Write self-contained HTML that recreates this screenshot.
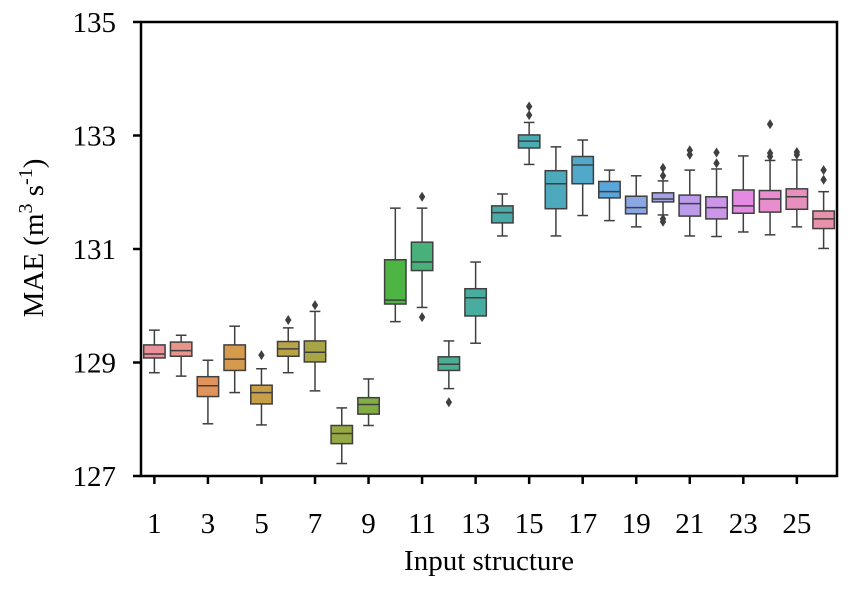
<!DOCTYPE html>
<html><head><meta charset="utf-8"><style>
html,body{margin:0;padding:0;background:#fff;width:854px;height:590px;overflow:hidden}
svg text{font-family:"Liberation Serif",serif;fill:#000}
</style></head><body>
<svg id="chart" width="854" height="590" xmlns="http://www.w3.org/2000/svg">
<g id="boxes"></g>
<g id="axes"></g>
<text x="489" y="570" font-size="29" text-anchor="middle">Input structure</text>
<text transform="translate(43,238) rotate(-90)" font-size="29" text-anchor="middle">MAE (m<tspan font-size="20" dy="-11">3</tspan><tspan dy="11"> s</tspan><tspan font-size="20" dy="-11">-1</tspan><tspan dy="11">)</tspan></text>
</svg>
<script>
const categories=[1,2,3,4,5,6,7,8,9,10,11,12,13,14,15,16,17,18,19,20,21,22,23,24,25,26];
const whiskerLow=[128.82,128.76,127.92,128.47,127.90,128.82,128.50,127.22,127.89,129.72,129.97,128.54,129.34,131.23,132.49,131.23,131.59,131.50,131.39,131.60,131.23,131.22,131.30,131.25,131.39,131.01];
const q1=[129.08,129.11,128.40,128.86,128.27,129.11,129.01,127.57,128.09,130.03,130.62,128.86,129.82,131.46,132.78,131.71,132.15,131.90,131.62,131.83,131.58,131.53,131.63,131.65,131.70,131.36];
const median=[129.15,129.21,128.59,129.06,128.47,129.24,129.18,127.75,128.26,130.10,130.77,128.97,130.14,131.64,132.90,132.15,132.48,132.01,131.73,131.88,131.80,131.73,131.76,131.88,131.92,131.53];
const q3=[129.31,129.36,128.75,129.31,128.60,129.37,129.38,127.89,128.38,130.81,131.12,129.10,130.30,131.76,133.01,132.38,132.63,132.19,131.93,131.99,131.95,131.92,132.04,132.03,132.06,131.67];
const whiskerHigh=[129.57,129.48,129.04,129.64,128.89,129.61,129.90,128.20,128.71,131.72,131.72,129.38,130.77,131.97,133.23,132.80,132.92,132.39,132.29,132.20,132.39,132.41,132.64,132.56,132.57,132.01];
const outliers=[[],[],[],[],[129.13],[129.75],[130.01],[],[],[],[129.80,131.92],[128.30],[],[],[133.36,133.51],[],[],[],[],[132.29,132.43,131.53,131.48],[132.66,132.74],[132.51,132.70],[],[132.63,132.69,133.20],[132.66,132.71],[132.22,132.39]];
const colors=["#e8919b","#e8948a","#e0935a","#d59a4b","#c99e48","#b9a347","#a8a546","#95a944","#82ad45","#4eb444","#48b17a","#49ae93","#48ac9f","#48aba9","#4aabb3","#4daabd","#52a8c9","#5aa5d9","#8aa6e3","#a6a2e8","#bb9bea","#cb96e8","#e38ae3","#e88dce","#e890bd","#e891ab"];
const yTicks=[127,129,131,133,135];
const xTickLabels=[1,3,5,7,9,11,13,15,17,19,21,23,25];

const L=141,R=837,T=22,B=476,yMin=127,yMax=135;
const step=(R-L)/categories.length;
function xs(i){return L+step*(i+0.5);}
function ys(v){return B-(v-yMin)/(yMax-yMin)*(B-T);}
const NS="http://www.w3.org/2000/svg";
function mk(tag,attrs,parent){const e=document.createElementNS(NS,tag);for(const k in attrs)e.setAttribute(k,attrs[k]);parent.appendChild(e);return e;}
const gb=document.getElementById('boxes');
const lc="#3f3f3f",lw=1.5,bw=step*0.8;
categories.forEach((c,i)=>{
  const g=mk('g',{},gb);
  
  
  const x=xs(i);
  mk('line',{x1:x,x2:x,y1:ys(whiskerHigh[i]),y2:ys(q3[i]),stroke:lc,'stroke-width':lw},g);
  mk('line',{x1:x,x2:x,y1:ys(q1[i]),y2:ys(whiskerLow[i]),stroke:lc,'stroke-width':lw},g);
  mk('line',{x1:x-bw/4,x2:x+bw/4,y1:ys(whiskerHigh[i]),y2:ys(whiskerHigh[i]),stroke:lc,'stroke-width':lw},g);
  mk('line',{x1:x-bw/4,x2:x+bw/4,y1:ys(whiskerLow[i]),y2:ys(whiskerLow[i]),stroke:lc,'stroke-width':lw},g);
  mk('rect',{x:x-bw/2,y:ys(q3[i]),width:bw,height:ys(q1[i])-ys(q3[i]),fill:colors[i],stroke:lc,'stroke-width':lw},g);
  mk('line',{x1:x-bw/2,x2:x+bw/2,y1:ys(median[i]),y2:ys(median[i]),stroke:lc,'stroke-width':lw},g);
  outliers[i].forEach(v=>{
    const y=ys(v);
    const d=mk('polygon',{points:`${x},${y-5} ${x+3.2},${y} ${x},${y+5} ${x-3.2},${y}`,fill:lc},g);
    
    
  });
});
const ga=document.getElementById('axes');
const fr=mk('rect',{x:L,y:T,width:R-L,height:B-T,fill:'none',stroke:'#000','stroke-width':2.5},ga);


yTicks.forEach(v=>{
  const y=ys(v);
  mk('line',{x1:L-8,x2:L,y1:y,y2:y,stroke:'#000','stroke-width':2.5},ga);
  const t=mk('text',{x:L-25,y:y+10,'font-size':29,'text-anchor':'end'},ga);
  t.textContent=v;
  
  
});
xTickLabels.forEach(c=>{
  const x=xs(categories.indexOf(c));
  mk('line',{x1:x,x2:x,y1:B,y2:B+8,stroke:'#000','stroke-width':2.5},ga);
  const t=mk('text',{x:x,y:B+57,'font-size':29,'text-anchor':'middle'},ga);
  t.textContent=c;
  
  
});
</script>
</body></html>
